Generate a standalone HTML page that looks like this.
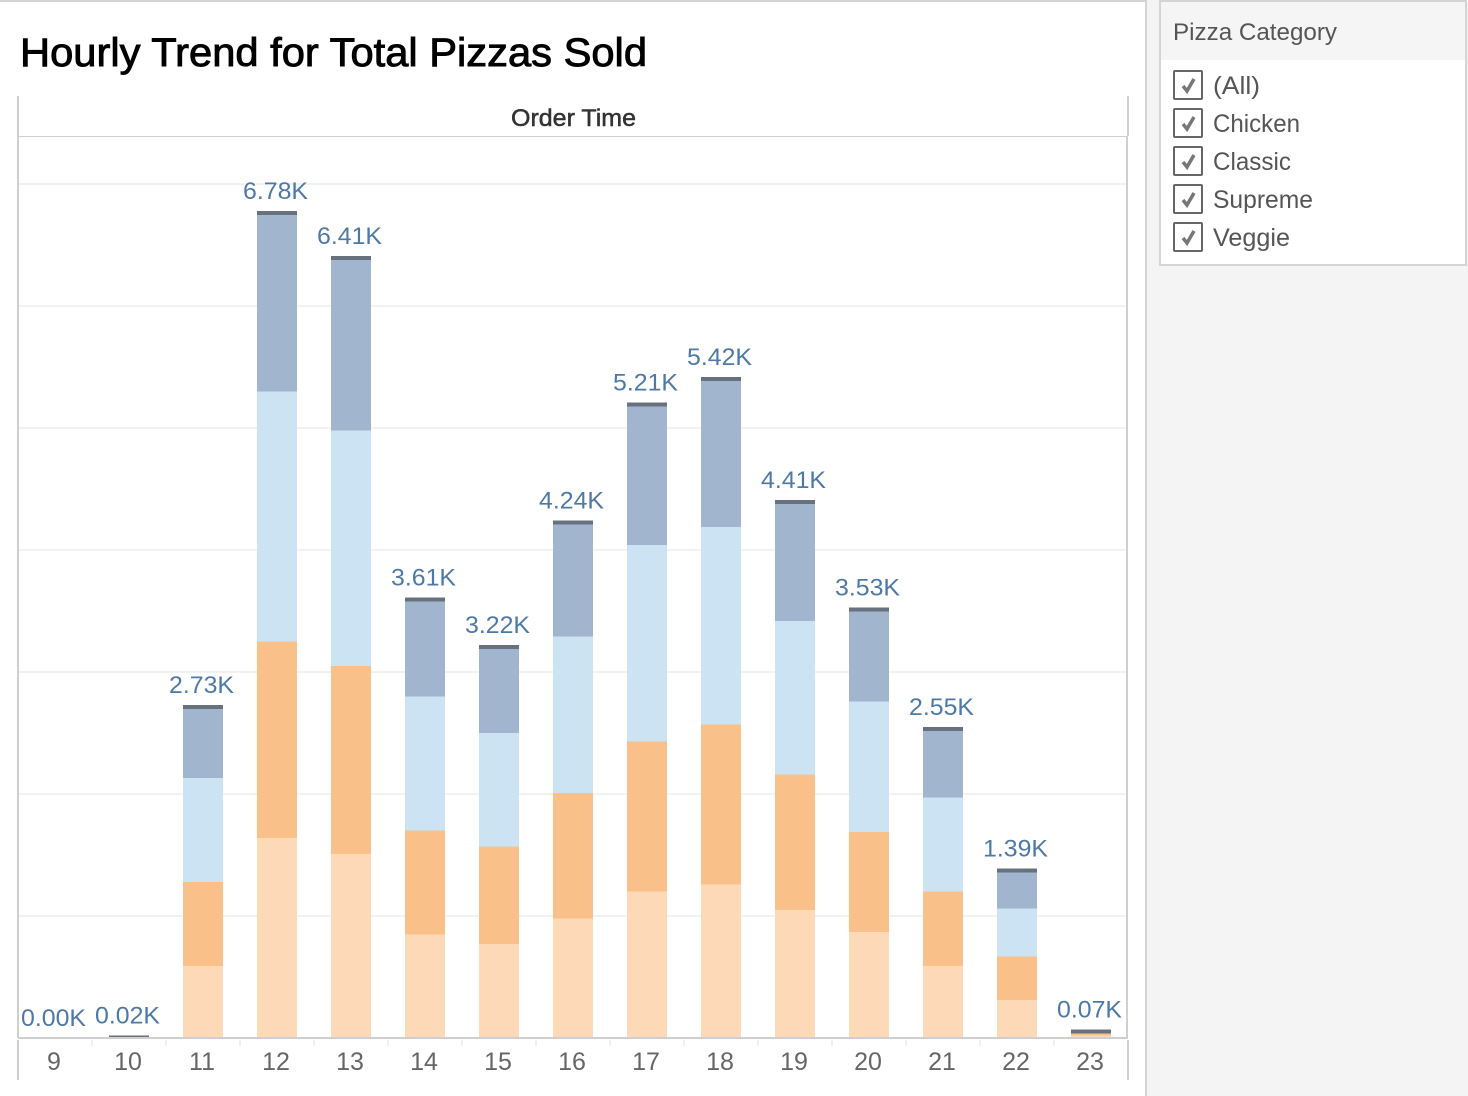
<!DOCTYPE html>
<html lang="en">
<head>
<meta charset="utf-8">
<title>Hourly Trend for Total Pizzas Sold</title>
<style>
html,body{margin:0;padding:0;background:#fff;}
body{width:1468px;height:1096px;overflow:hidden;}
svg{display:block;font-family:"Liberation Sans",sans-serif;}
</style>
</head>
<body>
<svg id="chart" xmlns="http://www.w3.org/2000/svg" width="1468" height="1096" viewBox="0 0 1468 1096">
  <rect x="1146" y="0" width="322" height="1096" fill="#f4f4f4"/>
  <rect x="0" y="0" width="1147" height="2" fill="#d4d4d4"/>
  <rect x="1145" y="0" width="2" height="1096" fill="#d4d4d4"/>
  <text x="20" y="66" font-size="40" fill="#000" stroke="#000" stroke-width="0.9" textLength="627" lengthAdjust="spacingAndGlyphs">Hourly Trend for Total Pizzas Sold</text>

  <g id="grid"></g>
  <g id="bars" shape-rendering="crispEdges"></g>

  <g shape-rendering="crispEdges">
    <rect x="17" y="96" width="2" height="942" fill="#cfcfcf"/>
    <rect x="1127" y="96" width="2" height="40" fill="#cfcfcf"/>
    <rect x="18" y="136" width="1110" height="1" fill="#cfcfcf"/>
    <rect x="1126" y="136" width="2" height="902" fill="#cfcfcf"/>
    <rect x="18" y="1037" width="1110" height="2" fill="#cfcfcf"/>
    <rect x="17" y="1040" width="2" height="40" fill="#cfcfcf"/>
    <rect x="1127" y="1040" width="2" height="40" fill="#cfcfcf"/>
  </g>
  <text x="511" y="126" font-size="24" fill="#333" stroke="#333" stroke-width="0.5" textLength="125" lengthAdjust="spacingAndGlyphs">Order Time</text>
  <g id="axis"></g>
  <g id="labels"></g>

  <g>
    <rect x="1160" y="1" width="306" height="264" fill="#fff" stroke="#d4d4d4" stroke-width="2"/>
    <rect x="1161" y="2" width="304" height="58" fill="#f5f5f5"/>
    <text x="1173" y="40" font-size="24" fill="#555" textLength="164" lengthAdjust="spacingAndGlyphs">Pizza Category</text>

    <g>
      <rect x="1174" y="71" width="28" height="28" rx="1" fill="#fff" stroke="#666" stroke-width="2"/>
      <polyline points="1183,86 1187,91 1194,79" fill="none" stroke="#777" stroke-width="3.5"/>
      <text x="1213" y="94" font-size="25" fill="#555" textLength="47" lengthAdjust="spacingAndGlyphs">(All)</text>
    </g>
    <g>
      <rect x="1174" y="109" width="28" height="28" rx="1" fill="#fff" stroke="#666" stroke-width="2"/>
      <polyline points="1183,124 1187,129 1194,117" fill="none" stroke="#777" stroke-width="3.5"/>
      <text x="1213" y="132" font-size="25" fill="#555" textLength="87" lengthAdjust="spacingAndGlyphs">Chicken</text>
    </g>
    <g>
      <rect x="1174" y="147" width="28" height="28" rx="1" fill="#fff" stroke="#666" stroke-width="2"/>
      <polyline points="1183,162 1187,167 1194,155" fill="none" stroke="#777" stroke-width="3.5"/>
      <text x="1213" y="170" font-size="25" fill="#555" textLength="78" lengthAdjust="spacingAndGlyphs">Classic</text>
    </g>
    <g>
      <rect x="1174" y="185" width="28" height="28" rx="1" fill="#fff" stroke="#666" stroke-width="2"/>
      <polyline points="1183,200 1187,205 1194,193" fill="none" stroke="#777" stroke-width="3.5"/>
      <text x="1213" y="208" font-size="25" fill="#555" textLength="100" lengthAdjust="spacingAndGlyphs">Supreme</text>
    </g>
    <g>
      <rect x="1174" y="223" width="28" height="28" rx="1" fill="#fff" stroke="#666" stroke-width="2"/>
      <polyline points="1183,238 1187,243 1194,231" fill="none" stroke="#777" stroke-width="3.5"/>
      <text x="1213" y="246" font-size="25" fill="#555" textLength="77" lengthAdjust="spacingAndGlyphs">Veggie</text>
    </g>
  </g>
</svg>
<script>
// Chart data (thousands of pizzas), stacked bottom to top
const hours = [9, 10, 11, 12, 13, 14, 15, 16, 17, 18, 19, 20, 21, 22, 23];
const seriesNames = ['segment-1', 'segment-2', 'segment-3', 'segment-4'];
const segment1 = [0, 0.005, 0.59, 1.64, 1.51, 0.85, 0.77, 0.98, 1.20, 1.26, 1.05, 0.87, 0.59, 0.31, 0.02];
const segment2 = [0, 0.005, 0.69, 1.61, 1.54, 0.85, 0.80, 1.03, 1.23, 1.31, 1.11, 0.82, 0.61, 0.36, 0.02];
const segment3 = [0, 0.005, 0.85, 2.05, 1.93, 1.10, 0.93, 1.28, 1.61, 1.62, 1.26, 1.07, 0.77, 0.39, 0.02];
const segment4 = [0, 0.005, 0.60, 1.48, 1.43, 0.81, 0.72, 0.95, 1.17, 1.23, 0.99, 0.77, 0.58, 0.33, 0.01];
const gridTicks = [1, 2, 3, 4, 5, 6, 7];

const NS = 'http://www.w3.org/2000/svg';
const allSeries = [segment1, segment2, segment3, segment4];
const seriesColors = ['#fdd9b8', '#f9c189', '#cbe3f3', '#a1b6ce'];
const capColor = '#68727f';
const barWidth = 40;

function xScale(i) { return 55 + 74 * i; }
function yScale(v) { return 1038 - 122 * v; }
function make(tag, attrs) {
  const el = document.createElementNS(NS, tag);
  for (const k in attrs) el.setAttribute(k, attrs[k]);
  return el;
}

const gridG = document.getElementById('grid');
gridTicks.forEach(function (t) {
  const line = make('rect', { x: 18, y: yScale(t) - 1, width: 1108, height: 2, fill: '#f2f2f2' });
  
  
  gridG.appendChild(line);
});

const barsG = document.getElementById('bars');
const labelsG = document.getElementById('labels');
const axisG = document.getElementById('axis');

hours.forEach(function (hour, i) {
  const cx = xScale(i);
  let cum = 0;
  allSeries.forEach(function (series, s) {
    const y0 = yScale(cum);
    cum += series[i];
    const y1 = yScale(cum);
    if (series[i] > 0) {
      const seg = make('rect', { x: cx - barWidth / 2, y: y1, width: barWidth, height: y0 - y1, fill: seriesColors[s] });
      
      
      barsG.appendChild(seg);
    }
  });
  const top = yScale(cum);
  const stackHeight = 1038 - top;
  if (stackHeight > 0) {
    const cap = make('rect', { x: cx - barWidth / 2, y: top, width: barWidth, height: Math.min(4, Math.max(1, stackHeight)), fill: capColor });
    
    
    barsG.appendChild(cap);
  }

  const label = make('text', { x: cx - 1.5, y: top - 12, 'text-anchor': 'middle', 'font-size': 24, fill: '#4e79a7', textLength: 65, lengthAdjust: 'spacingAndGlyphs' });
  label.textContent = cum.toFixed(2) + 'K';
  
  
  labelsG.appendChild(label);

  const tickLabel = make('text', { x: cx - 1, y: 1070, 'text-anchor': 'middle', 'font-size': 25, fill: '#666' });
  tickLabel.textContent = hour;
  
  
  axisG.appendChild(tickLabel);

  if (i > 0) {
    const tick = make('rect', { x: cx - 38, y: 1040, width: 2, height: 6, fill: '#f0f0f0' });
    
    
    axisG.appendChild(tick);
  }
});
</script>
</body>
</html>
